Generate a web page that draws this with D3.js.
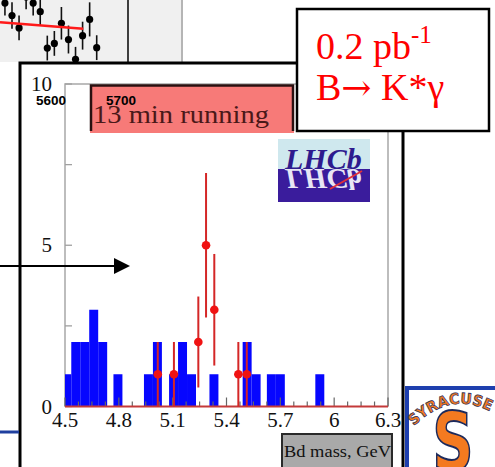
<!DOCTYPE html>
<html><head><meta charset="utf-8">
<script src="https://cdn.jsdelivr.net/npm/d3@7"></script>
<style>html,body{margin:0;padding:0;background:#fff;overflow:hidden}</style>
</head><body>
<svg id="c" width="495" height="467"></svg>
<script>
// Bd mass histogram (GeV): lower bin edges and entries, bins 0.05 GeV wide
const binLow = [4.485, 4.535, 4.585, 4.635, 4.685, 4.77, 4.94, 4.99, 5.08, 5.13, 5.18, 5.305, 5.49, 5.54, 5.625, 5.675, 5.895];
const binCount = [1, 2, 2, 3, 2, 1, 1, 2, 1, 2, 1, 1, 2, 1, 1, 1, 1];
const binWidth = 0.05;

// B -> K* gamma signal candidates with Poisson errors
const sigMass = [5.017, 5.107, 5.243, 5.286, 5.332, 5.466, 5.513];
const sigCount = [1, 1, 2, 5, 3, 1, 1];
const sigErr = [1, 1, 1.41, 2.24, 1.73, 1, 1];

const xTickValues = [4.5, 4.8, 5.1, 5.4, 5.7, 6, 6.3];
const xTickLabels = ["4.5", "4.8", "5.1", "5.4", "5.7", "6", "6.3"];
const yTickValues = [0, 5, 10];
const yTickLabels = ["0", "5", "10"];

// Mass spectrum fragment behind the panel (MeV, events)
const bgMass = [5537, 5547, 5557, 5567, 5577, 5587, 5597, 5607, 5617, 5627, 5637, 5647, 5657, 5667];
const bgCount = [76, 60, 44, 84, 76, 65, 18, 24, 50, 29, 3.5, 34, 55, 18.5];
const bgErr = [16, 17, 16, 16, 16, 18, 16, 16, 21, 18, 16, 18, 22, 16];
const fitMass = [5530, 5648];
const fitCount = [51.2, 43.0];

const svg = d3.select("#c");
const SERIF = "'Liberation Serif','Times New Roman',serif";
const SANS = "'Liberation Sans',Arial,sans-serif";

// ---------- fragment of the previous plot (top left) ----------
const bg = svg.append("g");
svg.append("clipPath").attr("id", "bgclip").append("rect")
  .attr("x", 0).attr("y", 0).attr("width", 182).attr("height", 62);
bg.append("rect").attr("x", 0).attr("y", 0).attr("width", 182).attr("height", 62).attr("fill", "#f0f0f0");
const bx = d3.scaleLinear().domain([5530, 5700]).range([0, 120]);
const by = d3.scaleLinear().domain([0, 80]).range([62, 0]);
const bgp = bg.append("g").attr("clip-path", "url(#bgclip)");
bgp.selectAll("line.e").data(bgMass).join("line")
  .attr("x1", d => bx(d)).attr("x2", d => bx(d))
  .attr("y1", (d, i) => by(bgCount[i] - bgErr[i])).attr("y2", (d, i) => by(bgCount[i] + bgErr[i]))
  .attr("stroke", "#111").attr("stroke-width", 1.6);
bgp.selectAll("circle").data(bgMass).join("circle")
  .attr("cx", d => bx(d)).attr("cy", (d, i) => by(bgCount[i])).attr("r", 3.6).attr("fill", "#000");
bgp.append("line")
  .attr("x1", bx(fitMass[0])).attr("y1", by(fitCount[0]))
  .attr("x2", bx(fitMass[1])).attr("y2", by(fitCount[1]))
  .attr("stroke", "#ff1a1a").attr("stroke-width", 2.5);
bg.append("line").attr("x1", 128).attr("x2", 128).attr("y1", 0).attr("y2", 62).attr("stroke", "#111").attr("stroke-width", 1.6);
bg.append("line").attr("x1", 182).attr("x2", 182).attr("y1", 0).attr("y2", 62).attr("stroke", "#b5b5b5").attr("stroke-width", 2);

// ---------- main panel ----------
svg.append("rect").attr("x", 20).attr("y", 63).attr("width", 383).attr("height", 420)
  .attr("fill", "#fff").attr("stroke", "#000").attr("stroke-width", 3);

const x = d3.scaleLinear().domain([4.5, 6.3]).range([65, 388]);
const y = d3.scaleLinear().domain([0, 10]).range([406.5, 84]);

svg.append("clipPath").attr("id", "frame").append("rect")
  .attr("x", 65).attr("y", 84).attr("width", 323).attr("height", 322.5);

// frame lines (left, top, right)
svg.append("path").attr("d", `M${x(6.3)},${y(0)}V${y(10)}H${x(4.5)}V${y(0)}`)
  .attr("stroke", "#a8a8a8").attr("stroke-width", 1.5).attr("fill", "none");

// y ticks
svg.append("g").selectAll("line").data(d3.range(0, 10.01, 2.5)).join("line")
  .attr("x1", x(4.5)).attr("x2", x(4.5) + 7)
  .attr("y1", d => y(d)).attr("y2", d => y(d))
  .attr("stroke", "#a0a0a0").attr("stroke-width", 1.3);

// histogram
svg.append("g").attr("clip-path", "url(#frame)").selectAll("rect").data(binLow).join("rect")
  .attr("x", d => x(d)).attr("width", d => x(d + binWidth) - x(d))
  .attr("y", (d, i) => y(binCount[i])).attr("height", (d, i) => y(0) - y(binCount[i]))
  .attr("fill", "#0606ff");

// x axis ticks (major every 0.3, minor every 0.075)
svg.append("g").selectAll("line").data(d3.range(4.5, 6.3001, 0.075)).join("line")
  .attr("x1", d => x(d)).attr("x2", d => x(d))
  .attr("y1", y(0)).attr("y2", (d, i) => y(0) - (i % 4 === 0 ? 9 : 5))
  .attr("stroke", "#666").attr("stroke-width", 1.2);
svg.append("line").attr("x1", x(4.5)).attr("x2", x(6.3)).attr("y1", y(0)).attr("y2", y(0))
  .attr("stroke", "#c43a3a").attr("stroke-width", 1.8);

// signal points with error bars
const sig = svg.append("g");
sig.selectAll("line").data(sigMass).join("line")
  .attr("x1", d => x(d)).attr("x2", d => x(d))
  .attr("y1", (d, i) => y(Math.max(0, sigCount[i] - sigErr[i])))
  .attr("y2", (d, i) => y(sigCount[i] + sigErr[i]))
  .attr("stroke", "#d42626").attr("stroke-width", 2);
sig.selectAll("circle").data(sigMass).join("circle")
  .attr("cx", d => x(d)).attr("cy", (d, i) => y(sigCount[i])).attr("r", 4.3)
  .attr("fill", "#f01212");

// axis labels
svg.append("g").selectAll("text").data(xTickValues).join("text")
  .attr("x", d => x(d)).attr("y", 427).attr("text-anchor", "middle")
  .attr("font-family", SERIF).attr("font-size", 21).attr("fill", "#111")
  .text((d, i) => xTickLabels[i]);
svg.append("g").selectAll("text").data(yTickValues).join("text")
  .attr("x", 52).attr("y", d => y(d) + 7).attr("text-anchor", "end")
  .attr("font-family", SERIF).attr("font-size", 21).attr("fill", "#111")
  .text((d, i) => yTickLabels[i]);

// title box
svg.append("rect").attr("x", 90).attr("y", 85).attr("width", 204).attr("height", 48).attr("fill", "#f77a78");
svg.append("path").attr("d", "M91,131V85.5H293V131").attr("fill", "none").attr("stroke", "#2a1010").attr("stroke-width", 2.5);
svg.append("text").attr("x", 93).attr("y", 123).attr("font-family", SERIF).attr("font-size", 26)
  .attr("fill", "#4a1818").attr("textLength", 176).attr("lengthAdjust", "spacingAndGlyphs")
  .text("13 min running");

// stray labels from the plot behind
svg.append("text").attr("x", 36).attr("y", 105).attr("font-family", SANS).attr("font-weight", "bold")
  .attr("font-size", 13.5).attr("fill", "#000").text("5600");
svg.append("text").attr("x", 106).attr("y", 105).attr("font-family", SANS).attr("font-weight", "bold")
  .attr("font-size", 13.5).attr("fill", "#000").text("5700");

// x axis title box
svg.append("rect").attr("x", 282).attr("y", 434).attr("width", 110).attr("height", 40)
  .attr("fill", "#a9a9a9").attr("stroke", "#2a2a2a").attr("stroke-width", 2);
svg.append("text").attr("x", 284).attr("y", 457).attr("font-family", SERIF).attr("font-size", 17.5)
  .attr("fill", "#111").attr("textLength", 107).attr("lengthAdjust", "spacingAndGlyphs")
  .text("Bd mass, GeV");

// LHCb logo
const lg = svg.append("g");
lg.append("rect").attr("x", 278).attr("y", 139).attr("width", 92).attr("height", 30).attr("fill", "#cfe8ee");
lg.append("rect").attr("x", 278).attr("y", 169).attr("width", 92).attr("height", 33).attr("fill", "#3a1c9c");
lg.append("text").attr("x", 285).attr("y", 169).attr("font-family", SERIF).attr("font-style", "italic")
  .attr("font-weight", "bold").attr("font-size", 30).attr("fill", "#2e1b8e").text("LHCb");
lg.append("text").attr("transform", "translate(0,338) scale(1,-1)").attr("x", 285).attr("y", 169)
  .attr("font-family", SERIF).attr("font-style", "italic").attr("font-weight", "bold")
  .attr("font-size", 30).attr("fill", "#e8e6f4").text("LHCb");
lg.append("line").attr("x1", 330).attr("y1", 189).attr("x2", 362).attr("y2", 171)
  .attr("stroke", "#e0303a").attr("stroke-width", 2);

// luminosity / channel box
svg.append("rect").attr("x", 297).attr("y", 9).attr("width", 192).attr("height", 122)
  .attr("fill", "#fff").attr("stroke", "#000").attr("stroke-width", 2.5);
const t1 = svg.append("text").attr("x", 316).attr("y", 59).attr("font-family", SERIF)
  .attr("font-size", 38).attr("fill", "#ff0000");
t1.append("tspan").text("0.2 pb");
t1.append("tspan").attr("dy", -16).attr("font-size", 25).text("-1");
const t2 = svg.append("text").attr("x", 316).attr("y", 100).attr("font-family", SERIF)
  .attr("font-size", 38).attr("fill", "#ff0000");
t2.append("tspan").text("B");
t2.append("tspan").attr("font-family", "'DejaVu Serif',serif").attr("font-size", 36).text("\u2192");
t2.append("tspan").text(" K*\u03b3");

// arrow
svg.append("line").attr("x1", 0).attr("x2", 116).attr("y1", 266).attr("y2", 266)
  .attr("stroke", "#000").attr("stroke-width", 2);
svg.append("path").attr("d", "M114,258L130,266L114,274Z").attr("fill", "#000");

// slide decoration: blue rule and Syracuse logo
svg.append("line").attr("x1", 0).attr("x2", 19).attr("y1", 432).attr("y2", 432)
  .attr("stroke", "#1f3f9f").attr("stroke-width", 3);
svg.append("rect").attr("x", 407).attr("y", 388).attr("width", 100).attr("height", 100)
  .attr("fill", "#fff").attr("stroke", "#1e3fae").attr("stroke-width", 4);
svg.append("path").attr("id", "arc").attr("d", "M410,430 Q452,386 498,416").attr("fill", "none");
svg.append("text").attr("font-family", "'DejaVu Sans',sans-serif").attr("font-weight", "bold")
  .attr("font-size", 15).attr("fill", "#f47a20").attr("stroke", "#1c2a5c").attr("stroke-width", 0.7)
  .append("textPath").attr("href", "#arc").attr("startOffset", "48%").attr("text-anchor", "middle")
  .attr("textLength", 84).attr("lengthAdjust", "spacingAndGlyphs")
  .text("SYRACUSE");
svg.append("text").attr("transform", "translate(453,470) scale(0.72,1)").attr("text-anchor", "middle")
  .attr("font-family", "'DejaVu Sans',sans-serif").attr("font-weight", "bold").attr("font-size", 80)
  .attr("fill", "#f47a20").attr("stroke", "#1c2a5c").attr("stroke-width", 2).text("S");
</script>
</body></html>
